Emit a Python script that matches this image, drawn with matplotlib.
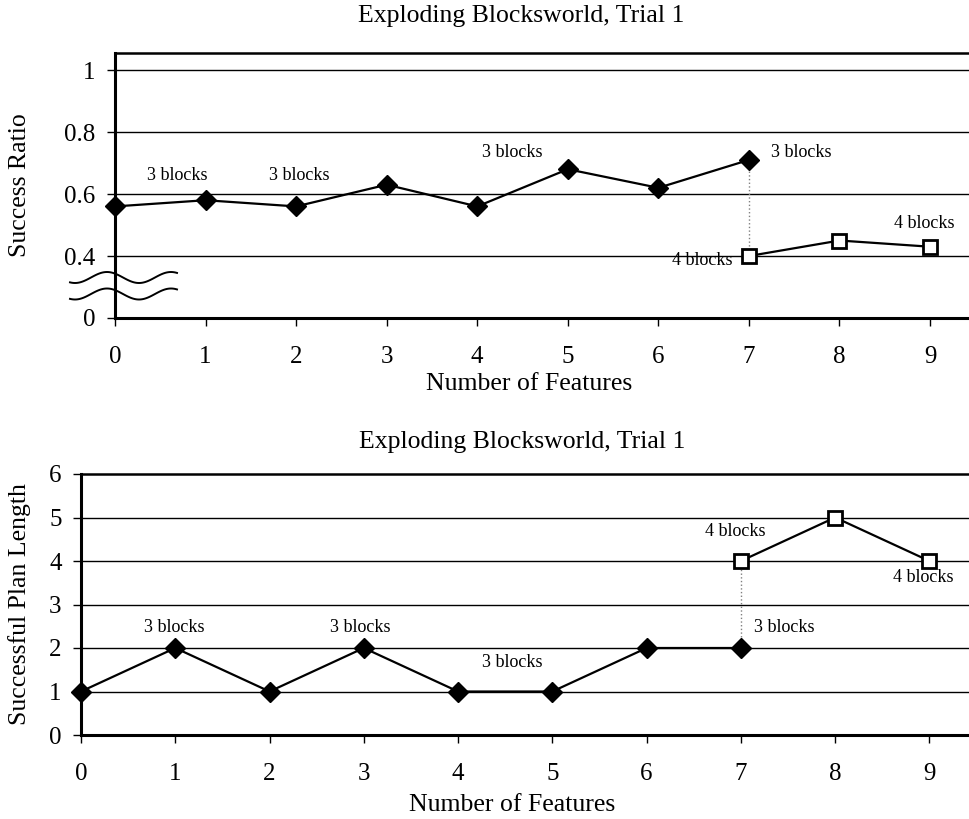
import numpy as np
import matplotlib.pyplot as plt

plt.rcParams['font.family'] = ['Liberation Serif', 'DejaVu Serif']

# Data
features3 = [0, 1, 2, 3, 4, 5, 6, 7]
features4 = [7, 8, 9]
ratio3 = [0.56, 0.58, 0.56, 0.63, 0.56, 0.68, 0.62, 0.71]
ratio4 = [0.40, 0.45, 0.43]
length3 = [1, 2, 1, 2, 1, 1, 2, 2]
length4 = [4, 5, 4]
title = 'Exploding Blocksworld, Trial 1'
label3 = '3 blocks'
label4 = '4 blocks'

# broken axis on top chart: values >= 0.4 are shifted down by 0.2
def brk(v):
    v = np.asarray(v, dtype=float)
    return np.where(v >= 0.3, v - 0.2, v)

fig = plt.figure(figsize=(9.69, 8.19), dpi=100)
ax1 = fig.add_axes([115/969, 1 - 318/819, 854/969, 265/819])
ax2 = fig.add_axes([81/969, 1 - 735/819, 888/969, 261/819])

FS = 18.5
fs = 13

def style(ax, xlab_y, ylab_x):
    for s in ['left', 'bottom']:
        ax.spines[s].set_linewidth(2.2)
    ax.spines['top'].set_linewidth(1.8)
    ax.spines['right'].set_visible(False)
    ax.set_xticks(range(10))
    ax.tick_params(axis='both', labelsize=18, width=1.0, length=6, direction='out')
    ax.tick_params(axis='x', pad=14)
    ax.tick_params(axis='y', pad=8)
    ax.set_xlabel('Number of Features', fontsize=FS, va='center')
    ax.xaxis.set_label_coords(0.485, xlab_y)
    ax.yaxis.label.set_va('center')
    ax.yaxis.set_label_coords(ylab_x, 0.5)

# ---- top chart
ax = ax1
for v in [0.4, 0.6, 0.8, 1.0]:
    ax.axhline(brk(v), color='black', lw=1.0, zorder=1)
ax.plot([7, 7], brk([ratio3[-1], ratio4[0]]), ls=':', color='gray', lw=1, zorder=2)
ax.plot(features3, brk(ratio3), color='black', lw=1.6, marker='D', ms=10, zorder=3, clip_on=False)
ax.plot(features4, brk(ratio4), color='black', lw=1.6, marker='s', ms=10,
        mfc='white', mec='black', mew=2, zorder=3)
ax.set_xlim(0, 9.43)
ax.set_ylim(0, 0.855)
ax.set_yticks(brk([0, 0.4, 0.6, 0.8, 1.0]))
ax.set_yticklabels(['0', '0.4', '0.6', '0.8', '1'])
ax.set_ylabel('Success Ratio', fontsize=FS)
style(ax, -0.249, -0.111)
ax.text(0.69, brk(0.661), label3, fontsize=fs, va='center', ha='center')
ax.text(2.04, brk(0.661), label3, fontsize=fs, va='center', ha='center')
ax.text(4.39, brk(0.735), label3, fontsize=fs, va='center', ha='center')
ax.text(7.58, brk(0.735), label3, fontsize=fs, va='center', ha='center')
ax.text(6.48, brk(0.384), label4, fontsize=fs, va='center', ha='center')
ax.text(8.94, brk(0.506), label4, fontsize=fs, va='center', ha='center')

# axis break symbol (two wavy lines across the left spine), in axes fraction
u = np.linspace(-45, 62, 100)          # pixel offset from the spine
bx = u / 854
wave = 5.5 * np.cos(2 * np.pi * (u + 8) / 64) / 265
for off in [40.5 / 265, 24 / 265]:
    ax.plot(bx, off + wave, color='black', lw=1.4, clip_on=False, zorder=4,
            transform=ax.transAxes)

# ---- bottom chart
ax = ax2
for v in [1, 2, 3, 4, 5]:
    ax.axhline(v, color='black', lw=1.0, zorder=1)
ax.plot([7, 7], [length3[-1], length4[0]], ls=':', color='gray', lw=1, zorder=2)
ax.plot(features3, length3, color='black', lw=1.6, marker='D', ms=10, zorder=3, clip_on=False)
ax.plot(features4, length4, color='black', lw=1.6, marker='s', ms=10,
        mfc='white', mec='black', mew=2, zorder=3)
ax.set_xlim(0, 9.42)
ax.set_ylim(0, 6)
ax.set_yticks(range(7))
ax.set_ylabel('Successful Plan Length', fontsize=FS)
style(ax, -0.268, -0.069)
ax.text(0.99, 2.48, label3, fontsize=fs, va='center', ha='center')
ax.text(2.96, 2.48, label3, fontsize=fs, va='center', ha='center')
ax.text(4.58, 1.66, label3, fontsize=fs, va='center', ha='center')
ax.text(7.46, 2.46, label3, fontsize=fs, va='center', ha='center')
ax.text(6.94, 4.67, label4, fontsize=fs, va='center', ha='center')
ax.text(8.93, 3.61, label4, fontsize=fs, va='center', ha='center')

fig.text(521/969, 1 - 16/819, title, fontsize=FS, ha='center', va='center')
fig.text(522/969, 1 - 442/819, title, fontsize=FS, ha='center', va='center')

fig.savefig('out.png', dpi=100)
